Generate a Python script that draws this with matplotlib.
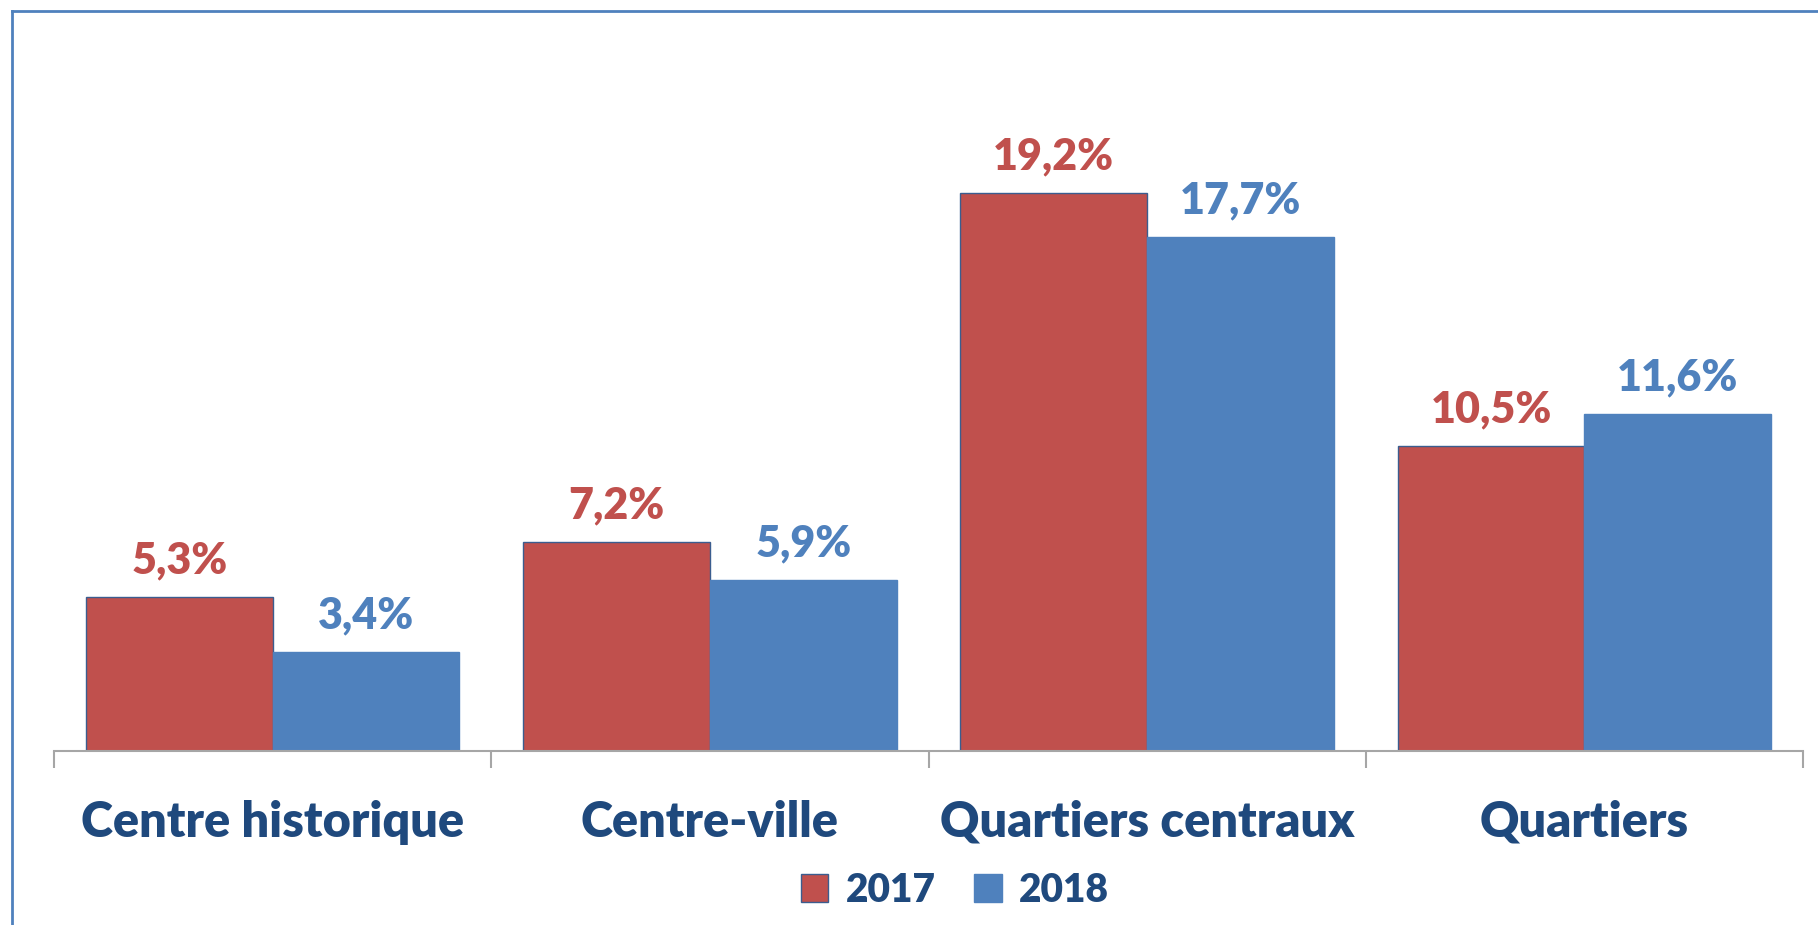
import numpy as np
from matplotlib import pyplot as plt
from matplotlib.lines import Line2D
from matplotlib.patches import Patch

categories = ["Centre historique", "Centre-ville", "Quartiers centraux", "Quartiers"]
series_names = ["2017", "2018"]
values_2017 = [5.3, 7.2, 19.2, 10.5]
values_2018 = [3.4, 5.9, 17.7, 11.6]

RED = "#C0504D"
BLUE = "#4F81BD"
DARK = "#1F497D"
FONT = "Lato"
WEIGHT = "heavy"


def fmt(v: float) -> str:
    # French decimal comma
    return f"{v:.1f}".replace(".", ",") + "%"


fig = plt.figure(figsize=(18.18, 9.25), dpi=100)
ax = fig.add_axes([54 / 1818, 0.1881, 1749 / 1818, 0.6909])

x = np.arange(len(categories))
width = 0.427
bars_a = ax.bar(x - width / 2, values_2017, width, color=RED, edgecolor="#3B5D8F", linewidth=1.0)
bars_b = ax.bar(x + width / 2, values_2018, width, color=BLUE, edgecolor=BLUE, linewidth=1.0)

for bars, vals, col in [(bars_a, values_2017, RED), (bars_b, values_2018, BLUE)]:
    for b, v in zip(bars, vals):
        ax.annotate(
            fmt(v),
            (b.get_x() + b.get_width() / 2, v),
            xytext=(0, 17),
            textcoords="offset points",
            ha="center",
            va="baseline",
            fontsize=31,
            fontweight=WEIGHT,
            color=col,
            family=FONT,
        )

ax.set_xlim(-0.5, len(categories) - 0.5)
ax.set_ylim(0, 22)
for side in ["left", "right", "top"]:
    ax.spines[side].set_visible(False)
ax.spines["bottom"].set_color("#A6A6A6")
ax.spines["bottom"].set_linewidth(1.5)
ax.set_yticks([])

ax.set_xticks(x)
ax.set_xticklabels(categories, fontsize=35, fontweight=WEIGHT, color=DARK, family=FONT)
ax.tick_params(axis="x", which="major", length=0, pad=35)
ax.set_xticks(np.arange(len(categories) + 1) - 0.5, minor=True)
ax.tick_params(axis="x", which="minor", length=12, width=1.5, color="#A6A6A6")

handles = [
    Patch(facecolor=RED, edgecolor="#3B5D8F", linewidth=1.0),
    Patch(facecolor=BLUE, edgecolor=BLUE, linewidth=1.0),
]
leg = fig.legend(
    handles,
    series_names,
    loc="center",
    bbox_to_anchor=(955 / 1818, 1 - 890 / 925),
    ncol=2,
    frameon=False,
    handlelength=0.7,
    handleheight=0.7,
    handletextpad=0.45,
    columnspacing=1.0,
    prop={"family": FONT, "weight": WEIGHT, "size": 28},
)
for t in leg.get_texts():
    t.set_color(DARK)

# chart frame (only top and left edges are visible in the crop)
fig.add_artist(Line2D([12 / 1818, 12 / 1818], [0, 1 - 11 / 925], transform=fig.transFigure, color=BLUE, linewidth=2))
fig.add_artist(Line2D([12 / 1818, 1], [1 - 11 / 925, 1 - 11 / 925], transform=fig.transFigure, color=BLUE, linewidth=2))

plt.savefig("out.png", dpi=100)
